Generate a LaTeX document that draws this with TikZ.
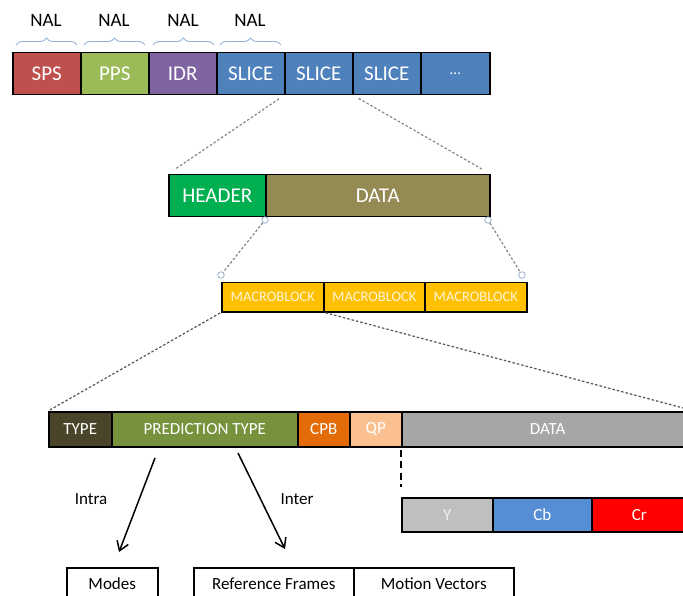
\documentclass[tikz,border=0pt]{standalone}
\usepackage{fontspec}
\setmainfont{Carlito}
\usetikzlibrary{arrows.meta,decorations.pathreplacing}

\definecolor{spsred}{HTML}{C0504D}
\definecolor{ppsgreen}{HTML}{9BBB59}
\definecolor{idrpurple}{HTML}{8064A2}
\definecolor{sliceblue}{HTML}{4F81BD}
\definecolor{hdrgreen}{HTML}{00B050}
\definecolor{dataolive}{HTML}{948A54}
\definecolor{mbyellow}{HTML}{FFC000}
\definecolor{mbtext}{HTML}{FFF5D9}
\definecolor{typebrown}{HTML}{4A452A}
\definecolor{predgreen}{HTML}{76923C}
\definecolor{cpborange}{HTML}{E36C09}
\definecolor{qppeach}{HTML}{FAC090}
\definecolor{datagray}{HTML}{A6A6A6}
\definecolor{ygray}{HTML}{BFBFBF}
\definecolor{cbblue}{HTML}{558ED5}
\definecolor{crred}{HTML}{FF0000}
\definecolor{bracecol}{HTML}{95B3D7}
\definecolor{knobcol}{HTML}{8EAACB}
\definecolor{linegray}{HTML}{858585}
\definecolor{linedark}{HTML}{555555}

\tikzset{
  seg/.style={draw=black, line width=1.5pt, anchor=north west, inner sep=0pt,
    text=white},
  bigtxt/.style={font=\fontsize{21}{21}\selectfont},
  midtxt/.style={font=\fontsize{17}{17}\selectfont},
  smalltxt/.style={font=\fontsize{14.5}{14.5}\selectfont},
  nalbrace/.style={draw=bracecol, line width=0.9pt,
    decorate, decoration={brace, amplitude=7pt}},
  zoomline/.style={draw=linegray, line width=1.2pt, dash pattern=on 2.5pt off 2pt},
  knob/.style={circle, draw=knobcol, fill=white, line width=0.7pt,
    inner sep=0pt, minimum size=6.5pt},
  branch/.style={draw=black, line width=1.5pt,
    -{Straight Barb[length=9pt, width=12pt, line width=1.5pt]}},
  whitebox/.style={draw=black, line width=1.5pt, anchor=north west, inner sep=0pt,
    fill=white, text=black, font=\fontsize{17}{17}\selectfont},
}

\begin{document}
\begin{tikzpicture}[x=1pt, y=-1pt]
\useasboundingbox (0,0) rectangle (683,596);
\clip (0,0) rectangle (683,596);

% ---- stream of NAL units
\node[seg, bigtxt, fill=spsred,    minimum width=68pt, minimum height=42pt] (sps) at (12,52)  {SPS};
\node[seg, bigtxt, fill=ppsgreen,  minimum width=68pt, minimum height=42pt] (pps) at (80,52)  {PPS};
\node[seg, bigtxt, fill=idrpurple, minimum width=68pt, minimum height=42pt] (idr) at (148,52) {IDR};
\node[seg, bigtxt, fill=sliceblue, minimum width=68pt, minimum height=42pt] (sla) at (216,52) {SLICE};
\node[seg, bigtxt, fill=sliceblue, minimum width=68pt, minimum height=42pt] (slb) at (284,52) {SLICE};
\node[seg, bigtxt, fill=sliceblue, minimum width=68pt, minimum height=42pt] (slc) at (352,52) {SLICE};
\node[seg, bigtxt, fill=sliceblue, minimum width=69pt, minimum height=42pt] (dots) at (420,52) {\raisebox{-2pt}{\fontsize{15}{15}\selectfont...}};

% ---- NAL braces and labels
\draw[nalbrace] (16,45) -- (77,45);
\draw[nalbrace] (84,45) -- (145,45);
\draw[nalbrace] (153,45) -- (214,45);
\draw[nalbrace] (220,45) -- (281,45);
\node[font=\fontsize{19}{19}\selectfont] (nal1) at (46,20)  {NAL};
\node[font=\fontsize{19}{19}\selectfont] (nal2) at (114,20) {NAL};
\node[font=\fontsize{19}{19}\selectfont] (nal3) at (183,20) {NAL};
\node[font=\fontsize{19}{19}\selectfont] (nal4) at (250,20) {NAL};

% ---- slice: header + data
\node[seg, bigtxt, fill=hdrgreen,  minimum width=97pt,  minimum height=42pt] (hdr) at (168,174) {HEADER};
\node[seg, bigtxt, fill=dataolive, minimum width=224pt, minimum height=42pt] (sdata) at (265,174) {DATA};

\draw[zoomline, shorten <=6pt, shorten >=9pt] (slb.south west) -- (hdr.north west);
\draw[zoomline, shorten <=6pt, shorten >=9pt] (slb.south east) -- (sdata.north east);

% ---- macroblocks
\node[seg, smalltxt, text=mbtext, fill=mbyellow, minimum width=102pt, minimum height=29pt] (mba) at (221,282) {MACROBLOCK};
\node[seg, smalltxt, text=mbtext, fill=mbyellow, minimum width=101pt, minimum height=29pt] (mbb) at (323,282) {MACROBLOCK};
\node[seg, smalltxt, text=mbtext, fill=mbyellow, minimum width=102pt, minimum height=29pt] (mbc) at (424,282) {MACROBLOCK};

\node[knob] (ka) at (265,220) {};
\node[knob] (kb) at (488,220) {};
\node[knob] (kc) at (221,275) {};
\node[knob] (kd) at (522,275) {};
\draw[zoomline] (ka) -- (kc);
\draw[zoomline] (kb) -- (kd);

% ---- macroblock layout
\node[seg, midtxt, fill=typebrown, minimum width=63pt,  minimum height=35pt] (mtype) at (48,411)  {TYPE};
\node[seg, midtxt, fill=predgreen, minimum width=186pt, minimum height=35pt] (pred)  at (111,411) {PREDICTION TYPE};
\node[seg, midtxt, fill=cpborange, minimum width=52pt,  minimum height=35pt] (cpb)   at (297,411) {CPB};
\node[seg, midtxt, fill=qppeach,   minimum width=52pt,  minimum height=35pt] (qp)    at (349,411) {QP};
\node[seg, midtxt, fill=datagray,  minimum width=292pt, minimum height=35pt] (mdata) at (401,411) {DATA};

\draw[zoomline, draw=linedark, shorten <=1pt, shorten >=2pt] (mba.south west) -- (mtype.north west);
\draw[zoomline, draw=linedark, shorten <=1pt] (mba.south east) -- (mdata.north east);

% ---- colour components
\node[seg, midtxt, text=white!88!gray, fill=ygray,  minimum width=91pt, minimum height=34pt] (ycomp)  at (401,497) {Y};
\node[seg, midtxt, fill=cbblue, minimum width=99pt, minimum height=34pt] (cbcomp) at (492,497) {Cb};
\node[seg, midtxt, fill=crred,  minimum width=95pt, minimum height=34pt] (crcomp) at (591,497) {Cr};

\draw[line width=2pt, dash pattern=on 7pt off 4.5pt, shorten <=2pt, shorten >=10pt]
  (mdata.south west) -- (ycomp.north west);

% ---- prediction branches
\coordinate (intraS) at (155,458);
\coordinate (intraE) at (119,552);
\coordinate (interS) at (238,453);
\coordinate (interE) at (285,549);
\draw[branch] (intraS) -- (intraE);
\draw[branch] (interS) -- (interE);
\node[midtxt] (intra) at (91,499)  {Intra};
\node[midtxt] (inter) at (297,499) {Inter};

% ---- prediction parameters
\node[whitebox, minimum width=91pt,  minimum height=33pt] (modes)  at (66,567)  {\raisebox{1pt}{Modes}};
\node[whitebox, minimum width=160pt, minimum height=33pt] (refs)   at (193,567) {\raisebox{1pt}{Reference Frames}};
\node[whitebox, minimum width=160pt, minimum height=33pt] (motion) at (353,567) {\raisebox{1pt}{Motion Vectors}};
\end{tikzpicture}
\end{document}
